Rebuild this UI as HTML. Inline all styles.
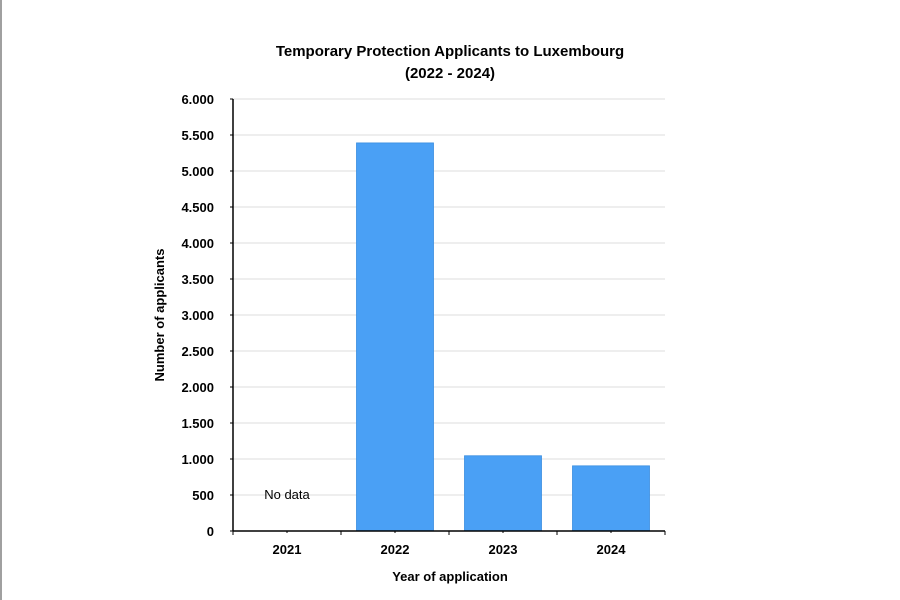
<!DOCTYPE html>
<html><head><meta charset="utf-8"><style>
html,body{margin:0;padding:0;background:#fff;}
svg{display:block;font-family:"Liberation Sans",Arial,sans-serif;}
</style></head><body>
<svg id="chart" width="900" height="600" viewBox="0 0 900 600">
<rect x="0" y="0" width="2" height="600" fill="#a0a0a0"/>
<text x="450" y="56" text-anchor="middle" font-size="15" font-weight="bold">Temporary Protection Applicants to Luxembourg</text>
<text x="450" y="78" text-anchor="middle" font-size="15" font-weight="bold">(2022 - 2024)</text>
<g id="grid"></g><g id="bars"></g><g id="axes"></g>
<text x="450" y="581" text-anchor="middle" font-size="13" font-weight="bold">Year of application</text>
<text transform="translate(164,315) rotate(-90)" text-anchor="middle" font-size="13" font-weight="bold">Number of applicants</text>
</svg>
<script>
const categories = ["2021","2022","2023","2024"];
const values = [null, 5390, 1045, 905];
const yTicks = [0,500,1000,1500,2000,2500,3000,3500,4000,4500,5000,5500,6000];
const yTickLabels = ["0","500","1.000","1.500","2.000","2.500","3.000","3.500","4.000","4.500","5.000","5.500","6.000"];
const NS="http://www.w3.org/2000/svg";
const x0=233,x1=665,yTop=99,yBot=531,yMax=6000;
const y=v=>yBot-(v/yMax)*(yBot-yTop);
const band=(x1-x0)/categories.length;
const xc=i=>x0+band*(i+0.5);
function mk(t,a,p){const e=document.createElementNS(NS,t);for(const k in a)e.setAttribute(k,a[k]);p.appendChild(e);return e;}
const grid=document.getElementById('grid'),bars=document.getElementById('bars'),axes=document.getElementById('axes');
yTicks.forEach((v,i)=>{
  const g=mk('line',{x1:x0,x2:x1,y1:y(v),y2:y(v),stroke:'#dcdcdc','stroke-width':1},grid);
  
  
  const tk=mk('line',{x1:x0-3,x2:x0,y1:y(v),y2:y(v),stroke:'#000'},axes);
  
  
  const t=mk('text',{x:x0-19,y:y(v)+5,'text-anchor':'end','font-size':13,'font-weight':'bold'},axes);
  t.textContent=yTickLabels[i];
  
  
});
categories.forEach((c,i)=>{
  const v=values[i];
  if(v!==null){
    const w=77;
    const r=mk('rect',{x:xc(i)-w/2,y:y(v),width:w,height:yBot-y(v),fill:'#4aa0f5',stroke:'#3a8ee0','stroke-width':0.8},bars);
    
    
  } else {
    const t=mk('text',{x:xc(i),y:y(500)+4,'text-anchor':'middle','font-size':13},bars);
    t.textContent='No data';
    
    
  }
  const t=mk('text',{x:xc(i),y:554,'text-anchor':'middle','font-size':13,'font-weight':'bold'},axes);
  t.textContent=c;
  
  
  const tk=mk('line',{x1:xc(i),x2:xc(i),y1:yBot,y2:yBot+2,stroke:'#000'},axes);
  
  
});
for(let i=0;i<=categories.length;i++){
  const xx=x0+band*i;
  const tk=mk('line',{x1:xx,x2:xx,y1:yBot,y2:yBot+4,stroke:'#000'},axes);
  
  
}
const ya=mk('line',{x1:x0,x2:x0,y1:yTop,y2:yBot,stroke:'#000','stroke-width':1.5},axes);


const xa=mk('line',{x1:x0,x2:x1,y1:yBot,y2:yBot,stroke:'#000','stroke-width':1.5},axes);


</script>
</body></html>
